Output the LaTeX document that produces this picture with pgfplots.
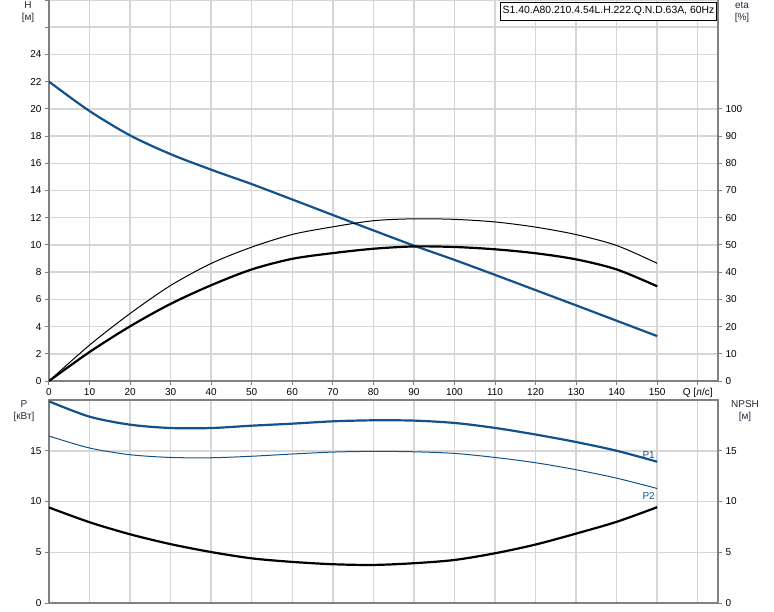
\documentclass[border=0pt]{standalone}
\usepackage{fontspec}
\setmainfont{Liberation Sans}
\usepackage{pgfplots}
\pgfplotsset{compat=1.18}
\definecolor{pblue}{RGB}{18,82,140}
\definecolor{spine}{RGB}{128,128,128}
\definecolor{gridc}{RGB}{214,214,214}
\definecolor{labc}{RGB}{40,40,60}

\pgfplotsset{
  pumpbase/.style={
    scale only axis, width=669pt, xmin=0, xmax=165,
    /pgf/number format/assume math mode=true,
    tick label style={font=\fontsize{10}{12}\selectfont, text=black},
    grid style={gridc, line width=1.5pt},
    axis line style={spine, line width=1.8pt},
    tick style={spine, line width=1pt},
    tick align=outside, major tick length=4pt,
  },
}

\begin{document}
\begin{tikzpicture}[font=\fontsize{10}{12}\selectfont]
\path[use as bounding box] (0,0) rectangle (774pt,-611pt);

% upper panel: head
\begin{axis}[pumpbase, at={(49pt,-381pt)}, anchor=south west, height=381pt,
  ymin=0, ymax=28,
  axis x line*=bottom, axis y line*=left,
  xtick={0,10,20,30,40,50,60,70,80,90,100,110,120,130,140,150,160},
  xticklabels={0,10,20,30,40,50,60,70,80,90,100,110,120,130,140,150,Q [л/с]},
  ytick={0,2,4,6,8,10,12,14,16,18,20,22,24,26,28},
  yticklabels={0,2,4,6,8,10,12,14,16,18,20,22,24,{},{}},
  grid=major,
]
\addplot[pblue, line width=2.2pt, smooth] coordinates {
  (0,22)(10,19.84)(20,18.05)(30,16.67)(40,15.53)(50,14.47)(60,13.34)(70,12.2)
  (80,11.07)(90,9.95)(100,8.9)(110,7.8)(120,6.68)(130,5.56)(140,4.43)(150,3.3)};
\end{axis}

% upper panel: efficiency
\begin{axis}[pumpbase, at={(49pt,-381pt)}, anchor=south west, height=381pt,
  ymin=0, ymax=140,
  axis x line=none, axis y line*=right,
  ytick={0,10,20,30,40,50,60,70,80,90,100},
]
\addplot[black, line width=1pt, smooth] coordinates {
  (0,0)(10,13.2)(20,24.8)(30,35.1)(40,43.2)(50,49.2)(60,53.85)(70,56.65)
  (80,58.9)(90,59.6)(100,59.4)(110,58.45)(120,56.55)(130,53.8)(140,49.8)(150,43.25)};
\addplot[black, line width=2.2pt, smooth] coordinates {
  (0,0)(10,10.65)(20,20.1)(30,28.35)(40,35.2)(50,41)(60,44.9)(70,47)
  (80,48.6)(90,49.45)(100,49.25)(110,48.4)(120,46.95)(130,44.7)(140,41)(150,34.8)};
\end{axis}

% lower panel: power
\begin{axis}[pumpbase, at={(49pt,-603pt)}, anchor=south west, height=203pt,
  ymin=0, ymax=20,
  xtick={0,10,20,30,40,50,60,70,80,90,100,110,120,130,140,150,160},
  xticklabels={}, xtick style={draw=none},
  ytick={0,5,10,15}, ytick pos=left,
  grid=major,
]
\addplot[pblue, line width=2.2pt, smooth] coordinates {
  (0,19.87)(10,18.36)(20,17.57)(30,17.24)(40,17.24)(50,17.47)(60,17.67)(70,17.9)
  (80,18.0)(90,17.97)(100,17.74)(110,17.25)(120,16.6)(130,15.86)(140,15.0)(150,13.92)};
\addplot[pblue, line width=1pt, smooth] coordinates {
  (0,16.45)(10,15.27)(20,14.61)(30,14.34)(40,14.31)(50,14.46)(60,14.68)(70,14.87)
  (80,14.94)(90,14.9)(100,14.74)(110,14.34)(120,13.82)(130,13.13)(140,12.3)(150,11.28)};
\node[pblue, anchor=center] at (axis cs:147.9,14.55) {P1};
\node[pblue, anchor=center] at (axis cs:147.9,10.55) {P2};
\end{axis}

% lower panel: NPSH
\begin{axis}[pumpbase, at={(49pt,-603pt)}, anchor=south west, height=203pt,
  ymin=0, ymax=20,
  axis x line=none, axis y line*=right,
  ytick={0,5,10,15},
]
\addplot[black, line width=2.2pt, smooth] coordinates {
  (0,9.41)(10,7.96)(20,6.77)(30,5.8)(40,5.02)(50,4.4)(60,4.05)(70,3.82)
  (80,3.75)(90,3.92)(100,4.24)(110,4.9)(120,5.76)(130,6.84)(140,8.0)(150,9.44)};
\end{axis}

% axis titles
\node[labc] at (28pt,-5.5pt) {H};
\node[labc] at (28pt,-17.5pt) {[м]};
\node[labc] at (742pt,-5.5pt) {eta};
\node[labc] at (742pt,-17.5pt) {[\%]};
\node[labc] at (24pt,-404pt) {P};
\node[labc] at (24pt,-417pt) {[кВт]};
\node[labc] at (745pt,-404pt) {NPSH};
\node[labc] at (745pt,-417pt) {[м]};
\node[draw=black, fill=white, line width=0.6pt, inner sep=2pt, minimum height=18pt,
  minimum width=215pt, font=\fontsize{10.4}{12}\selectfont] at (608.5pt,-11pt)
  {S1.40.A80.210.4.54L.H.222.Q.N.D.63A, 60Hz};
\end{tikzpicture}
\end{document}
